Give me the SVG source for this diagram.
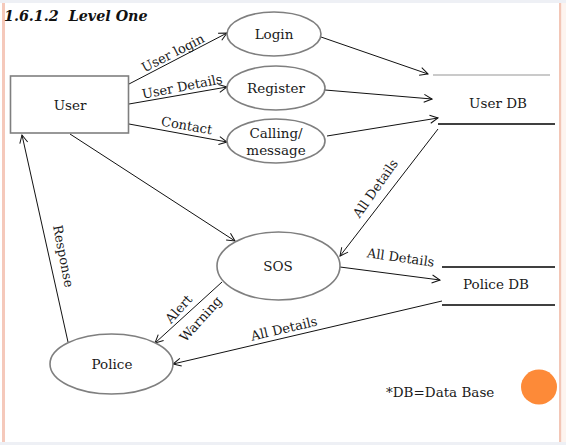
<svg xmlns="http://www.w3.org/2000/svg" width="566" height="445" viewBox="0 0 566 445">
<style>
  .t { font-family: "DejaVu Serif", "Liberation Serif", serif; font-size: 13.5px; fill: #1a1a1a; }
  .lbl { font-family: "DejaVu Serif", "Liberation Serif", serif; font-size: 13px; fill: #1a1a1a; }
  .node { fill: #ffffff; stroke: #7f7f7f; stroke-width: 1.6; }
  .edge { fill: none; stroke: #111111; stroke-width: 1; }
  .store { stroke: #000000; stroke-width: 1.3; }
</style>
<defs>
  <marker id="arr" markerWidth="10" markerHeight="10" refX="9" refY="5" orient="auto" markerUnits="userSpaceOnUse">
    <path d="M1,1 L9,5 L1,9" fill="none" stroke="#111111" stroke-width="1"/>
  </marker>
</defs>
<rect x="0" y="0" width="566" height="445" fill="#ffffff"/>
<rect x="0" y="0" width="566" height="3" fill="#eef0f5"/>
<rect x="0" y="442" width="566" height="3" fill="#eef0f5"/>
<rect x="2" y="3" width="3" height="439" fill="#f5c9bb"/>
<rect x="559" y="3" width="2.5" height="439" fill="#f3c6b6"/>
<rect x="561.5" y="3" width="4.5" height="439" fill="#fdf4ef"/>

<text x="4" y="21" xml:space="preserve" font-family="'DejaVu Serif', 'Liberation Serif', serif" font-size="14.3" font-weight="bold" font-style="italic" fill="#111">1.6.1.2  Level One</text>

<g id="connectors">
  <line class="edge" x1="129" y1="84" x2="227" y2="33" marker-end="url(#arr)"/>
  <line class="edge" x1="129" y1="104" x2="227" y2="87" marker-end="url(#arr)"/>
  <line class="edge" x1="129" y1="124" x2="227" y2="142" marker-end="url(#arr)"/>
  <line class="edge" x1="321" y1="37" x2="428" y2="74" marker-end="url(#arr)"/>
  <line class="edge" x1="325" y1="90" x2="432" y2="99" marker-end="url(#arr)"/>
  <line class="edge" x1="327" y1="136" x2="438" y2="118" marker-end="url(#arr)"/>
  <line class="edge" x1="70" y1="134" x2="235" y2="241" marker-end="url(#arr)"/>
  <line class="edge" x1="438" y1="129" x2="340" y2="256" marker-end="url(#arr)"/>
  <line class="edge" x1="340" y1="267" x2="440" y2="280" marker-end="url(#arr)"/>
  <line class="edge" x1="442" y1="301" x2="173" y2="364" marker-end="url(#arr)"/>
  <line class="edge" x1="222" y1="282" x2="155" y2="343" marker-end="url(#arr)"/>
  <line class="edge" x1="68" y1="342" x2="22" y2="135" marker-end="url(#arr)"/>

  <text class="lbl" text-anchor="middle" transform="translate(175,57) rotate(-27)">User login</text>
  <text class="lbl" text-anchor="middle" transform="translate(183,91) rotate(-11)">User Details</text>
  <text class="lbl" text-anchor="middle" transform="translate(186,130) rotate(10)">Contact</text>
  <text class="lbl" text-anchor="middle" transform="translate(379,191) rotate(-55)">All Details</text>
  <text class="lbl" text-anchor="middle" transform="translate(400,262) rotate(8)">All Details</text>
  <text class="lbl" text-anchor="middle" transform="translate(285,333) rotate(-13)">All Details</text>
  <text class="lbl" text-anchor="middle" transform="translate(59,257) rotate(79)">Response</text>
  <text class="lbl" text-anchor="middle" transform="translate(182,312) rotate(-48)">Alert</text>
  <text class="lbl" text-anchor="middle" transform="translate(204,322) rotate(-48)">Warning</text>
</g>

<g id="user">
  <rect class="node" x="10.5" y="76" width="118" height="57"/>
  <text class="t" x="70" y="110" text-anchor="middle">User</text>
</g>
<g id="login">
  <ellipse class="node" cx="274" cy="34" rx="47" ry="22"/>
  <text class="t" x="274" y="39" text-anchor="middle">Login</text>
</g>
<g id="register">
  <ellipse class="node" cx="276" cy="88" rx="49" ry="22"/>
  <text class="t" x="276" y="93" text-anchor="middle">Register</text>
</g>
<g id="calling">
  <ellipse class="node" cx="276" cy="141" rx="49" ry="22"/>
  <text class="t" x="276" y="138" text-anchor="middle">Calling/</text>
  <text class="t" x="276" y="155" text-anchor="middle">message</text>
</g>
<g id="userdb">
  <line x1="433" y1="75" x2="550" y2="75" stroke="#b8b8b8" stroke-width="1.6"/>
  <line class="store" x1="438" y1="124" x2="555" y2="124"/>
  <text class="t" x="498" y="108" text-anchor="middle">User DB</text>
</g>
<g id="sos">
  <ellipse class="node" cx="278.5" cy="266" rx="61.5" ry="34"/>
  <text class="t" x="278" y="271" text-anchor="middle">SOS</text>
</g>
<g id="policedb">
  <line class="store" x1="442" y1="267" x2="555" y2="267"/>
  <line class="store" x1="442" y1="305" x2="555" y2="305"/>
  <text class="t" x="496" y="289" text-anchor="middle">Police DB</text>
</g>
<g id="police">
  <ellipse class="node" cx="111.5" cy="364" rx="61.5" ry="30"/>
  <text class="t" x="112" y="369" text-anchor="middle">Police</text>
</g>
<text class="t" x="386" y="397">*DB=Data Base</text>
<ellipse cx="539" cy="387" rx="18" ry="17.5" fill="#fd8a38"/>
</svg>
